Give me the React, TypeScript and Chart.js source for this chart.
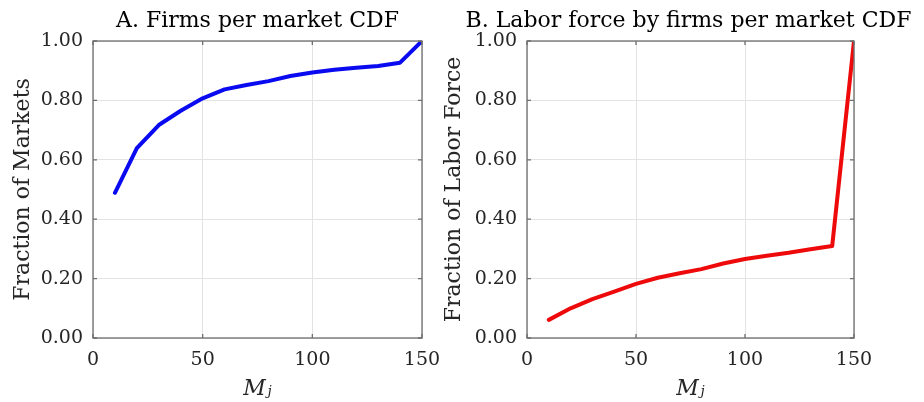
import React, { useEffect, useRef } from "react";
import { Chart, registerables } from "chart.js";
Chart.register(...registerables);

// ---- data ----
const mValues = [10, 20, 30, 40, 50, 60, 70, 80, 90, 100, 110, 120, 130, 140, 150];
const firmsCdf = [0.489, 0.639, 0.717, 0.765, 0.807, 0.837, 0.852, 0.865, 0.882, 0.894, 0.903, 0.91, 0.916, 0.927, 1.0];
const laborCdf = [0.061, 0.1, 0.131, 0.156, 0.182, 0.203, 0.218, 0.232, 0.251, 0.266, 0.277, 0.287, 0.299, 0.31, 1.0];
const xTicks = [0, 50, 100, 150];
const yTicks = [0, 0.2, 0.4, 0.6, 0.8, 1.0];
const titleA = "A. Firms per market CDF";
const titleB = "B. Labor force by firms per market CDF";
const yTitleA = "Fraction of Markets";
const yTitleB = "Fraction of Labor Force";
const xTitle = "Mⱼ";

const FONT = "'DejaVu Serif', 'Liberation Serif', serif";

const boxPlugin = {
  id: "matlabBox",
  afterDatasetsDraw(chart: any) {
    const { ctx, chartArea } = chart;
    const { left, top, right, bottom } = chartArea;
    ctx.save();
    ctx.strokeStyle = "#6e6e6e";
    ctx.lineWidth = 1.3;
    ctx.strokeRect(left, top, right - left, bottom - top);
    const xs = chart.scales.x;
    const ys = chart.scales.y;
    const tl = 4;
    ctx.beginPath();
    xTicks.forEach((v) => {
      const px = xs.getPixelForValue(v);
      ctx.moveTo(px, bottom);
      ctx.lineTo(px, bottom - tl);
      ctx.moveTo(px, top);
      ctx.lineTo(px, top + tl);
    });
    yTicks.forEach((v) => {
      const py = ys.getPixelForValue(v);
      ctx.moveTo(left, py);
      ctx.lineTo(left + tl, py);
      ctx.moveTo(right, py);
      ctx.lineTo(right - tl, py);
    });
    ctx.stroke();
    ctx.restore();
  },
};

function makeConfig(
  values: number[],
  color: string,
  title: string,
  yTitle: string,
  yWidth: number,
  yTitlePad: number,
  rightWidth: number,
  titleFull: boolean
): any {
  return {
    type: "line",
    data: {
      datasets: [
        {
          data: mValues.map((m, i) => ({ x: m, y: values[i] })),
          borderColor: color,
          backgroundColor: color,
          borderWidth: 4,
          pointRadius: 0,
          tension: 0,
          fill: false,
          borderJoinStyle: "round",
          borderCapStyle: "round",
        },
      ],
    },
    options: {
      responsive: false,
      animation: false,
      layout: { padding: 0 },
      plugins: {
        legend: { display: false },
        tooltip: { enabled: false },
        title: {
          display: true,
          text: title,
          fullSize: titleFull,
          color: "#000",
          font: { family: FONT, size: 22, weight: "normal", lineHeight: 1.2 },
          padding: { top: 8, bottom: 6.6 },
        },
      },
      scales: {
        x: {
          type: "linear",
          min: 0,
          max: 150,
          afterBuildTicks: (s: any) => {
            s.ticks = xTicks.map((v) => ({ value: v }));
          },
          afterFit: (s: any) => {
            s.height = 64;
            s.paddingLeft = 0;
            s.paddingRight = 0;
          },
          grid: { color: "#e3e3e3", lineWidth: 1, drawTicks: false },
          border: { display: false },
          ticks: {
            color: "#262626",
            padding: 11,
            maxRotation: 0,
            font: { family: FONT, size: 19 },
            callback: (v: any) => String(v),
          },
          title: {
            display: true,
            text: xTitle,
            color: "#262626",
            font: { family: FONT, size: 22, style: "italic" },
            padding: { top: 0, bottom: 0 },
          },
        },
        y: {
          type: "linear",
          min: 0,
          max: 1,
          afterBuildTicks: (s: any) => {
            s.ticks = yTicks.map((v) => ({ value: v }));
          },
          afterFit: (s: any) => {
            s.width = yWidth;
            s.paddingTop = 0;
            s.paddingBottom = 0;
          },
          grid: { color: "#e3e3e3", lineWidth: 1, drawTicks: false },
          border: { display: false },
          ticks: {
            color: "#262626",
            padding: 10,
            font: { family: FONT, size: 19 },
            callback: (v: any) => Number(v).toFixed(2),
          },
          title: {
            display: true,
            text: yTitle,
            color: "#262626",
            font: { family: FONT, size: 22, lineHeight: 1.2 },
            padding: { top: yTitlePad, bottom: 0 },
          },
        },
        yRight: {
          type: "linear",
          position: "right",
          min: 0,
          max: 1,
          afterFit: (s: any) => {
            s.width = rightWidth;
            s.paddingTop = 0;
            s.paddingBottom = 0;
          },
          grid: { display: false, drawTicks: false },
          border: { display: false },
          ticks: { display: false },
        },
      },
    },
    plugins: [boxPlugin],
  };
}

function Panel(props: { cfg: any; left: number; width: number }) {
  const ref = useRef<HTMLCanvasElement>(null);
  useEffect(() => {
    if (!ref.current) return;
    const chart = new Chart(ref.current, props.cfg);
    return () => chart.destroy();
  }, []);
  return (
    <canvas
      ref={ref}
      width={props.width}
      height={402}
      style={{ position: "absolute", left: props.left, top: 0, width: props.width, height: 402 }}
    />
  );
}

export default function App() {
  const cfgA = makeConfig(firmsCdf, "#0a0af0", titleA, yTitleA, 93, 10, 18, false);
  const cfgB = makeConfig(laborCdf, "#ee0a0a", titleB, yTitleB, 87, 1, 83, true);
  return (
    <div
      style={{
        position: "fixed",
        left: 0,
        top: 0,
        width: 924,
        height: 402,
        overflow: "hidden",
        background: "#fff",
      }}
    >
      <Panel cfg={cfgA} left={0} width={440} />
      <Panel cfg={cfgB} left={440} width={497} />
    </div>
  );
}
